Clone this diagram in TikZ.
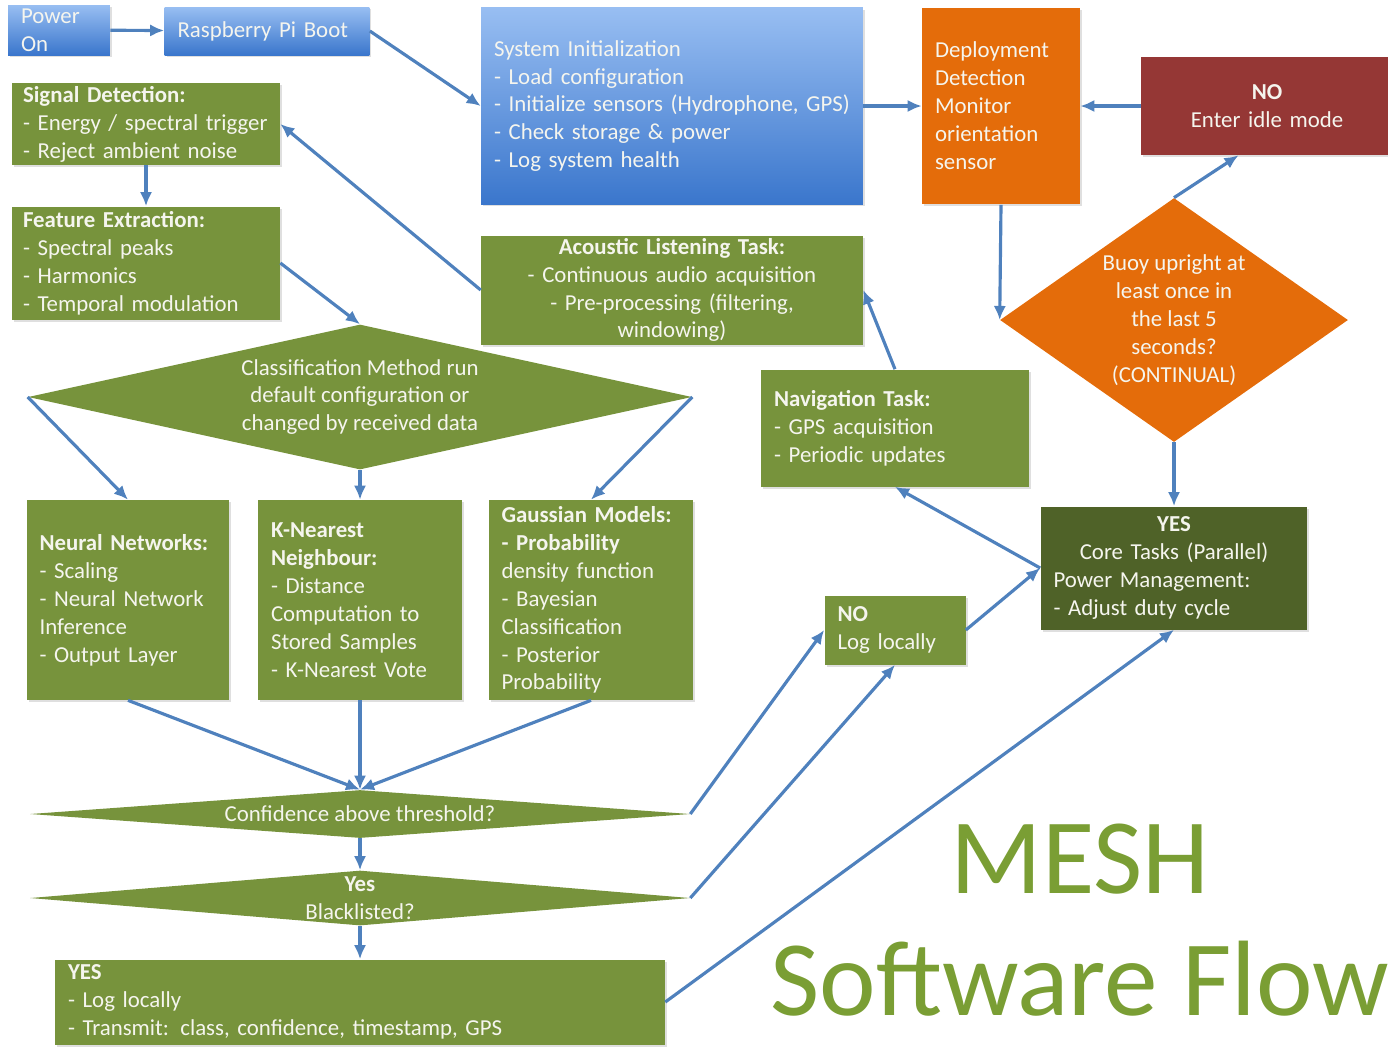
\documentclass[tikz,border=0pt]{standalone}
\usepackage{fontspec}
\setmainfont{Carlito}
\usepackage{xcolor}
\usetikzlibrary{positioning,shapes.geometric,shadows,arrows.meta}

\definecolor{flowblue}{RGB}{79,129,189}
\definecolor{boxgreen}{RGB}{119,147,60}
\definecolor{coregreen}{RGB}{79,98,40}
\definecolor{deployorange}{RGB}{228,108,10}
\definecolor{idlered}{RGB}{149,55,53}
\definecolor{bluetop}{RGB}{152,190,242}
\definecolor{bluebot}{RGB}{58,118,204}
\definecolor{boxtext}{RGB}{245,245,238}
\definecolor{titlegreen}{RGB}{122,158,52}

\hyphenpenalty=10000

\begin{document}
\begin{tikzpicture}[x=0.02cm, y=-0.02cm,
    every node/.style={font=\fontsize{13}{15.9}\selectfont},
    box/.style={rectangle, text=boxtext, inner xsep=0.26cm, inner ysep=0pt, align=left,
        drop shadow={opacity=0.25, shadow xshift=0.04cm, shadow yshift=-0.04cm}},
    block/.style={box, fill=boxgreen},
    bootbox/.style={box, top color=bluetop, bottom color=bluebot},
    decision/.style={diamond, fill=boxgreen, text=boxtext, inner sep=0pt, align=center},
    title/.style={font=\fontsize{61}{61}\selectfont, text=titlegreen, inner sep=0pt},
    arrow/.style={->, >={Latex[length=8pt,width=7pt]}, line width=1.8pt, draw=flowblue}]

    \useasboundingbox (0,0) rectangle (1388,1046);

    \node[bootbox, text width=1.52cm, minimum height=1cm] (power) at (59,30) {Power\\On};
    \node[bootbox, text width=3.58cm, minimum height=0.96cm] (boot) at (267,31) {Raspberry Pi Boot};
    \node[bootbox, text width=7.12cm, minimum height=3.94cm] (sysinit) at (672,106) {System Initialization\\- Load configuration\\- Initialize sensors (Hydrophone, GPS)\\- Check storage \& power\\- Log system health};
    \node[box, fill=deployorange, text width=2.64cm, minimum height=3.94cm] (deploy) at (1001,106) {Deployment\\Detection\\Monitor\\orientation\\sensor};
    \node[box, fill=idlered, text width=4.52cm, minimum height=1.96cm, align=center] (idle) at (1267,106) {\textbf{NO}\\Enter idle mode};
    \node[decision, fill=deployorange, minimum width=6.96cm, minimum height=4.88cm, shape aspect=1.43] (buoy) at (1174,320) {Buoy upright at\\least once in\\the last 5\\seconds?\\(CONTINUAL)};
    \node[box, fill=coregreen, text width=4.82cm, minimum height=2.46cm] (core) at (1174,568) {{\centering\textbf{YES}\\Core Tasks (Parallel)\par}Power Management:\\- Adjust duty cycle};
    \node[block, text width=4.84cm, minimum height=2.34cm] (nav) at (895,428) {\textbf{Navigation Task:}\\- GPS acquisition\\- Periodic updates};
    \node[block, text width=7.12cm, minimum height=2.18cm, align=center] (acoustic) at (672,290) {\textbf{Acoustic Listening Task:}\\- Continuous audio acquisition\\- Pre-processing (filtering,\\windowing)};
    \node[block, inner xsep=0.22cm, text width=4.92cm, minimum height=1.64cm] (signal) at (146,124) {\textbf{Signal Detection:}\\- Energy / spectral trigger\\- Reject ambient noise};
    \node[block, inner xsep=0.22cm, text width=4.92cm, minimum height=2.26cm] (feature) at (146,263) {\textbf{Feature Extraction:}\\- Spectral peaks\\- Harmonics\\- Temporal modulation};
    \node[decision, minimum width=13.28cm, minimum height=2.9cm, shape aspect=4.58] (classify) at (360,397) {Classification Method run\\default configuration or\\changed by received data};
    \node[block, text width=3.54cm, minimum height=4cm] (neural) at (128,600) {\textbf{Neural Networks:}\\- Scaling\\- Neural Network\\Inference\\- Output Layer};
    \node[block, text width=3.56cm, minimum height=4cm] (knn) at (360,600) {\textbf{K-Nearest}\\\textbf{Neighbour:}\\- Distance\\Computation to\\Stored Samples\\- K-Nearest Vote};
    \node[block, text width=3.58cm, minimum height=4cm] (gauss) at (591,600) {\textbf{Gaussian Models:}\\\textbf{- Probability}\\density function\\- Bayesian\\Classification\\- Posterior\\Probability};
    \node[decision, minimum width=13.2cm, minimum height=0.96cm, shape aspect=13.75] (conf) at (360,814) {Confidence above threshold?};
    \node[decision, minimum width=13.2cm, minimum height=1.1cm, shape aspect=12] (black) at (360,898) {\textbf{Yes}\\Blacklisted?};
    \node[block, text width=11.68cm, minimum height=1.7cm] (yesbox) at (360,1002) {\textbf{YES}\\- Log locally\\- Transmit: class, confidence, timestamp, GPS};
    \node[block, text width=2.3cm, minimum height=1.38cm] (nolog) at (895,630) {\textbf{NO}\\Log locally};

    \node[title, anchor=base] (mesh) at (1080,893) {MESH};
    \node[title, anchor=base west] (flow) at (770,1015) {Software Flow};

    \draw[arrow] (power) -- (boot);
    \draw[arrow] (boot.east) -- (sysinit.west);
    \draw[arrow] (sysinit) -- (deploy);
    \draw[arrow] (idle) -- (deploy);
    \draw[arrow] (deploy.south) -- (buoy.west);
    \draw[arrow] (buoy.north) -- (idle.240);
    \draw[arrow] (buoy) -- (core);
    \draw[arrow] (core.west) -- (nav.south);
    \draw[arrow] (nav.north) -- (acoustic.east);
    \draw[arrow] (acoustic.west) -- (signal.east);
    \draw[arrow] (signal) -- (feature);
    \draw[arrow] (feature.east) -- (classify.north);
    \draw[arrow] (classify.west) -- (neural.north);
    \draw[arrow] (classify) -- (knn);
    \draw[arrow] (classify.east) -- (gauss.north);
    \draw[arrow] (neural.south) -- (conf.north);
    \draw[arrow] (knn) -- (conf);
    \draw[arrow] (gauss.south) -- (conf.north);
    \draw[arrow] (conf) -- (black);
    \draw[arrow] (black) -- (yesbox);
    \draw[arrow] (conf.east) -- (nolog.west);
    \draw[arrow] (black.east) -- (nolog.south);
    \draw[arrow] (yesbox.east) -- (core.south);
    \draw[arrow] (nolog.east) -- (core.west);
\end{tikzpicture}
\end{document}
